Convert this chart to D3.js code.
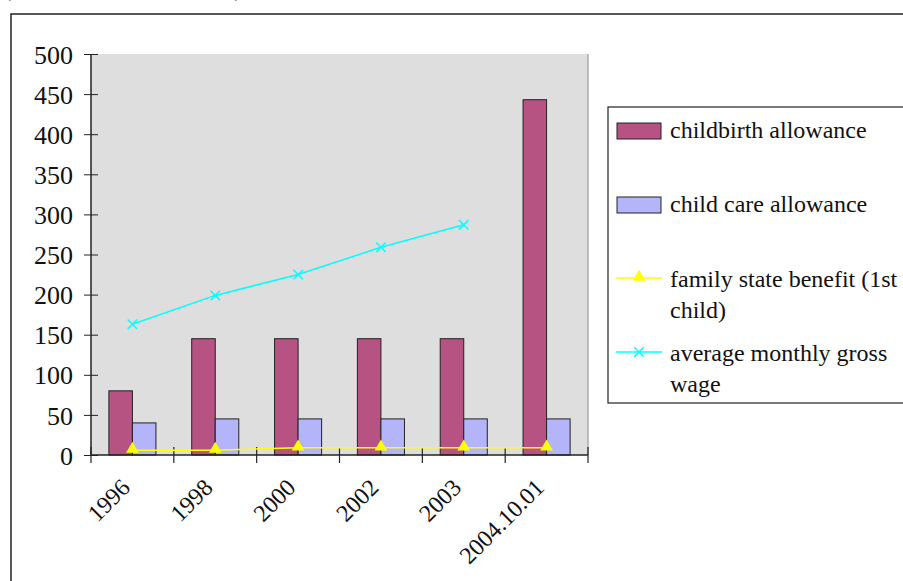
<!DOCTYPE html>
<html lang="en">
<head>
  <meta charset="UTF-8" />
  <title>Allowances</title>
  <script src="https://d3js.org/d3.v7.min.js"></script>
  <style>
    body { margin: 0; background: #fff; }
    svg text { font-family: "Liberation Serif", "Times New Roman", serif; fill: #111; }
  </style>
</head>
<body>
<svg id="chart" width="903" height="581"></svg>
<script>
const categories = ["1996", "1998", "2000", "2002", "2003", "2004.10.01"];
const childbirth = [80, 145, 145, 145, 145, 443];
const childCare = [40, 45, 45, 45, 45, 45];
const familyBenefit = [6, 6, 9, 9, 9, 9];
const avgWage = [163, 199, 225, 259, 287, null];
const yTicks = [0, 50, 100, 150, 200, 250, 300, 350, 400, 450, 500];

const svg = d3.select("#chart");

// outer frame (clipped by the window on right/bottom)
svg.append("rect").attr("x", 11).attr("y", 14).attr("width", 1000).attr("height", 700)
  .attr("fill", "none").attr("stroke", "#222").attr("stroke-width", 1.5);
// caption above the frame, mostly cut off like in the source
svg.append("text").attr("x", 3).attr("y", -4).style("font-size", "24px").text("(in thousand HUF, 2004)");

const plotL = 91, plotR = 588, plotT = 54, plotB = 455;

const x0 = d3.scaleBand().domain(categories).range([plotL, plotR]);
const x1 = d3.scaleBand().domain(["cb", "cc"]).range([0, x0.bandwidth()]).paddingOuter(0.76);
const y = d3.scaleLinear().domain([0, 500]).range([plotB, plotT]);

// plot area
svg.append("rect").attr("x", plotL).attr("y", plotT).attr("width", plotR - plotL).attr("height", plotB - plotT)
  .attr("fill", "#dedede");
svg.append("line").attr("x1", plotR).attr("x2", plotR).attr("y1", plotT).attr("y2", plotB)
  .attr("stroke", "#aaa").attr("stroke-width", 1.5);

// bars
const groups = svg.append("g").selectAll("g").data(categories).join("g")
  .attr("transform", d => `translate(${x0(d)},0)`);
groups.append("rect").attr("x", x1("cb")).attr("width", x1.bandwidth())
  .attr("y", (d, i) => y(childbirth[i])).attr("height", (d, i) => y(0) - y(childbirth[i]))
  .attr("fill", "#b65382").attr("stroke", "#222").attr("stroke-width", 1);
groups.append("rect").attr("x", x1("cc")).attr("width", x1.bandwidth())
  .attr("y", (d, i) => y(childCare[i])).attr("height", (d, i) => y(0) - y(childCare[i]))
  .attr("fill", "#b4b4fa").attr("stroke", "#222").attr("stroke-width", 1);

// axes
const yAxis = d3.axisLeft(y).tickValues(yTicks).tickSize(7).tickPadding(11);
const gy = svg.append("g").attr("transform", `translate(${plotL},0)`).call(yAxis);
gy.selectAll(".tick line").attr("x1", 7).attr("x2", -7).attr("stroke", "#222");
gy.selectAll(".tick text").style("font-size", "26px").attr("dy", "0.35em");
gy.select(".domain").attr("stroke", "#222").attr("stroke-width", 1.5).attr("d", `M0,${plotT}V${plotB}`);

const xBounds = categories.map(c => x0(c)).concat([plotR]);
svg.append("line").attr("x1", plotL).attr("x2", plotR).attr("y1", plotB).attr("y2", plotB)
  .attr("stroke", "#222").attr("stroke-width", 1.5);
svg.append("g").selectAll("line").data(xBounds).join("line")
  .attr("x1", d => d).attr("x2", d => d).attr("y1", plotB - 8).attr("y2", plotB + 8)
  .attr("stroke", "#222").attr("stroke-width", 1.2);
svg.append("g").selectAll("text").data(categories).join("text")
  .attr("text-anchor", "end")
  .attr("transform", d => `translate(${x0(d) + x0.bandwidth() / 2 - 1},${plotB + 34}) rotate(-45)`)
  .style("font-size", "24px").text(d => d);

// lines
const cx = d => x0(d) + x0.bandwidth() / 2;
const line = d3.line().defined(d => d[1] != null).x(d => cx(d[0])).y(d => y(d[1]));

svg.append("path").datum(categories.map((c, i) => [c, familyBenefit[i]]))
  .attr("d", line).attr("fill", "none").attr("stroke", "#ffff00").attr("stroke-width", 1.5);
const tri = d3.symbol().type(d3.symbolTriangle).size(70);
svg.append("g").selectAll("path").data(categories).join("path")
  .attr("d", tri).attr("fill", "#ffff00")
  .attr("transform", (d, i) => `translate(${cx(d)},${y(familyBenefit[i]) - 1})`);

const wageData = categories.map((c, i) => [c, avgWage[i]]);
svg.append("path").datum(wageData)
  .attr("d", line).attr("fill", "none").attr("stroke", "#00ffff").attr("stroke-width", 1.5);
const cross = d3.symbol().type(d3.symbolX).size(60);
svg.append("g").selectAll("path").data(wageData.filter(d => d[1] != null)).join("path")
  .attr("d", cross).attr("fill", "none").attr("stroke", "#00ffff").attr("stroke-width", 1.5)
  .attr("transform", d => `translate(${cx(d[0])},${y(d[1])})`);

// legend
const lg = svg.append("g");
lg.append("rect").attr("x", 608).attr("y", 107).attr("width", 400).attr("height", 296)
  .attr("fill", "#fff").attr("stroke", "#222").attr("stroke-width", 1.2);
lg.append("rect").attr("x", 617).attr("y", 123).attr("width", 44).attr("height", 16)
  .attr("fill", "#b65382").attr("stroke", "#222");
lg.append("text").attr("x", 670).attr("y", 138).style("font-size", "24px").text("childbirth allowance");
lg.append("rect").attr("x", 617).attr("y", 197).attr("width", 44).attr("height", 16)
  .attr("fill", "#b4b4fa").attr("stroke", "#222");
lg.append("text").attr("x", 670).attr("y", 212).style("font-size", "24px").text("child care allowance");
lg.append("line").attr("x1", 616).attr("x2", 662).attr("y1", 278).attr("y2", 278).attr("stroke", "#ffff00").attr("stroke-width", 1.5);
lg.append("path").attr("d", tri).attr("fill", "#ffff00").attr("transform", "translate(639,277)");
lg.append("text").attr("x", 670).attr("y", 287).style("font-size", "24px").text("family state benefit (1st");
lg.append("text").attr("x", 670).attr("y", 318).style("font-size", "24px").text("child)");
lg.append("line").attr("x1", 616).attr("x2", 662).attr("y1", 352).attr("y2", 352).attr("stroke", "#00ffff").attr("stroke-width", 1.5);
lg.append("path").attr("d", cross).attr("fill", "none").attr("stroke", "#00ffff").attr("stroke-width", 1.5).attr("transform", "translate(639,352)");
lg.append("text").attr("x", 670).attr("y", 361).style("font-size", "24px").text("average monthly gross");
lg.append("text").attr("x", 670).attr("y", 392).style("font-size", "24px").text("wage");
</script>
</body>
</html>
